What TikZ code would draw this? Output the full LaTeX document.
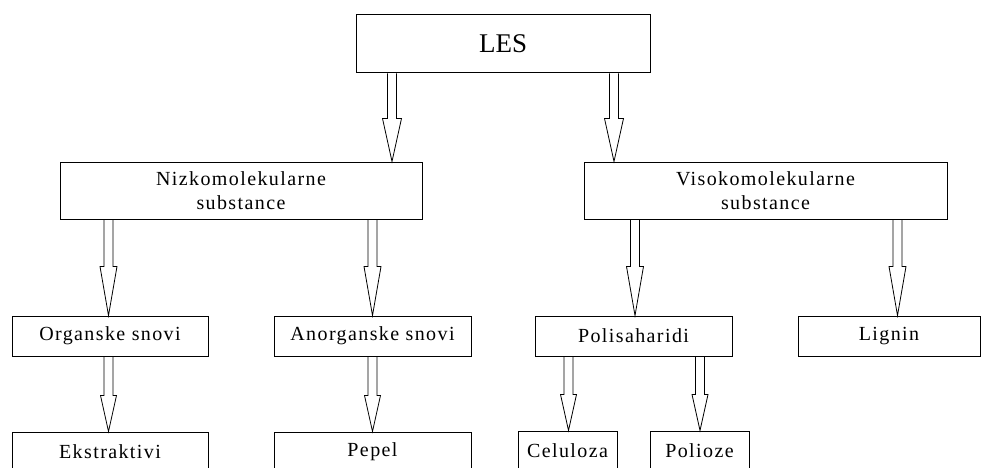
\documentclass[tikz,border=0pt]{standalone}
\usepackage{fontspec}
\setmainfont{Liberation Serif}
\newfontfamily\lsp{Liberation Serif}[LetterSpace=7]
\usetikzlibrary{calc}
\pgfdeclarelayer{bg}
\pgfsetlayers{bg,main}
\tikzset{
  box/.style={draw, line width=1pt, inner sep=0pt, align=center,
    font=\lsp\fontsize{20}{24}\selectfont},
  blk/.style={draw, fill=white, line width=0.8pt, line join=miter},
}
% from node, to node, x (pt), head length (pt), head half-width (pt)
\newcommand\blockarr[5]{%
  \begin{pgfonlayer}{bg}
  \draw[blk] let \p1=(#1.south), \p2=(#2.north) in
    (#3pt-4.5pt,\y1) -- (#3pt-4.5pt,\y2+#4pt) -- (#3pt-#5pt,\y2+#4pt) --
    (#3pt,\y2) -- (#3pt+#5pt,\y2+#4pt) -- (#3pt+4.5pt,\y2+#4pt) -- (#3pt+4.5pt,\y1);
  \end{pgfonlayer}}
\begin{document}
\begin{tikzpicture}[x=1pt,y=-1pt]
\useasboundingbox (0,0) rectangle (982,468);
\clip (0,0) rectangle (982,468);
\node[box, minimum width=294pt, minimum height=58pt, font=\fontsize{27}{30}\selectfont] (les) at (503,44) {LES};
\node[box, minimum width=362pt, minimum height=57pt] (nizko) at (241,190.5) {Nizkomolekularne\\substance};
\node[box, minimum width=363pt, minimum height=57pt] (visoko) at (765.5,190.5) {Visokomolekularne\\substance};
\node[box, minimum width=196pt, minimum height=40pt] (org) at (110,336) {Organske snovi};
\node[box, minimum width=197pt, minimum height=40pt] (anorg) at (372.5,336) {Anorganske snovi};
\node[box, minimum width=197pt, minimum height=40pt] (poli) at (633.5,336) {Polisaharidi};
\node[box, minimum width=182pt, minimum height=40pt] (lignin) at (889,336) {Lignin};
\node[box, minimum width=196pt, minimum height=40pt] (ekst) at (110,452) {Ekstraktivi};
\node[box, minimum width=197pt, minimum height=40pt] (pepel) at (372.5,452) {Pepel};
\node[box, minimum width=99pt, minimum height=40pt] (celul) at (567.5,451) {Celuloza};
\node[box, minimum width=99pt, minimum height=40pt] (polioz) at (699.5,451) {Polioze};
\blockarr{les}{nizko}{392}{43}{9.5}
\blockarr{les}{visoko}{614}{43}{9.5}
\blockarr{nizko}{org}{108.5}{49}{8.5}
\blockarr{nizko}{anorg}{372.5}{49}{8.5}
\blockarr{visoko}{poli}{635}{49}{8.5}
\blockarr{visoko}{lignin}{897.5}{49}{8.5}
\blockarr{org}{ekst}{108.5}{36}{8}
\blockarr{anorg}{pepel}{372.5}{36}{8}
\blockarr{poli}{celul}{568.5}{36}{8}
\blockarr{poli}{polioz}{700}{36}{8}
\end{tikzpicture}
\end{document}
